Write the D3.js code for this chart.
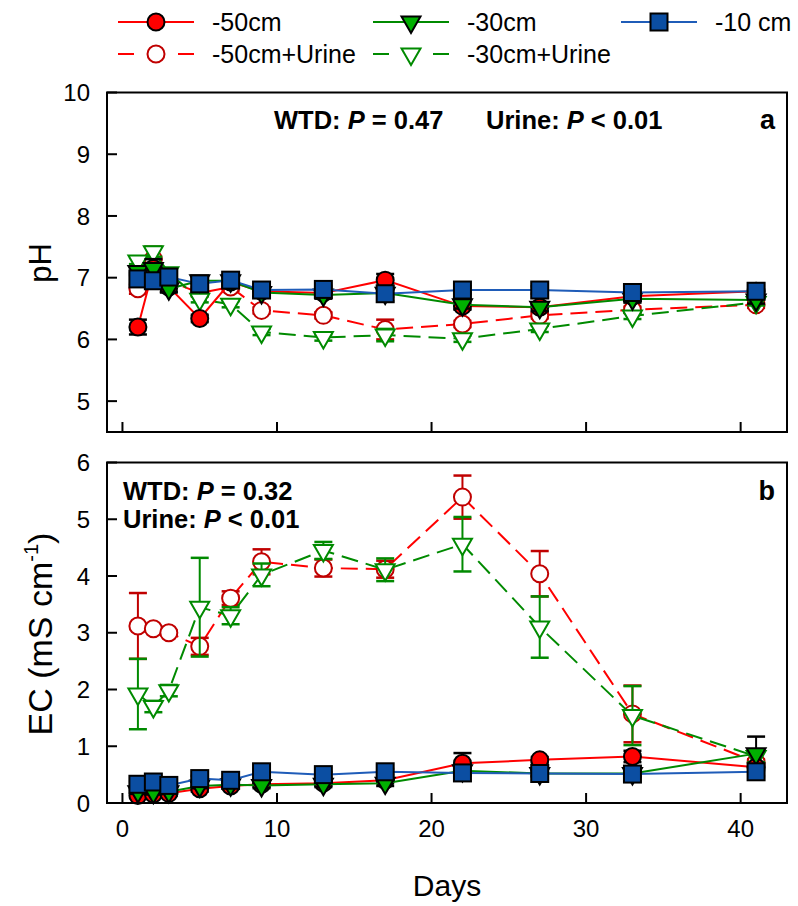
<!DOCTYPE html>
<html>
<head>
<meta charset="utf-8">
<script src="https://cdn.jsdelivr.net/npm/d3@7"></script>
<style>
  body { margin: 0; background: #fff; }
  svg { font-family: "Liberation Sans", Arial, sans-serif; }
</style>
</head>
<body>
<div id="chart"></div>
<script>
// sampling days
const days = [1, 2, 3, 5, 7, 9, 13, 17, 22, 27, 33, 41];

// pH (panel a)
const ph50 = [6.20, 7.15, 6.85, 6.34, 6.93, 6.78, 6.75, 6.96, 6.54, 6.52, 6.70, 6.78];
const ph50Err = [0.12, 0.15, 0.08, 0.06, 0.08, 0.08, 0.08, 0.10, 0.06, 0.06, 0.10, 0.08];
const ph30 = [7.10, 7.15, 6.82, 6.95, 6.95, 6.76, 6.72, 6.75, 6.56, 6.52, 6.66, 6.64];
const ph30Err = [0.06, 0.08, 0.06, 0.05, 0.05, 0.06, 0.06, 0.06, 0.06, 0.06, 0.06, 0.06];
const ph10 = [6.98, 6.95, 7.01, 6.90, 6.96, 6.80, 6.81, 6.74, 6.80, 6.80, 6.76, 6.78];
const ph10Err = [0.10, 0.08, 0.10, 0.06, 0.08, 0.10, 0.06, 0.12, 0.06, 0.06, 0.12, 0.12];
const ph50u = [6.82, 7.30, 6.95, 6.75, 6.85, 6.47, 6.39, 6.16, 6.25, 6.39, 6.48, 6.56];
const ph50uErr = [0.08, 0.20, 0.08, 0.05, 0.06, 0.05, 0.05, 0.16, 0.05, 0.05, 0.05, 0.05];
const ph30u = [7.27, 7.42, 7.08, 6.65, 6.57, 6.12, 6.03, 6.07, 6.01, 6.17, 6.38, 6.60];
const ph30uErr = [0.05, 0.08, 0.05, 0.05, 0.05, 0.05, 0.05, 0.10, 0.05, 0.05, 0.05, 0.05];

// EC (panel b)
const ec50 = [0.13, 0.16, 0.17, 0.25, 0.30, 0.33, 0.35, 0.40, 0.70, 0.76, 0.82, 0.63];
const ec50Err = [0.04, 0.04, 0.04, 0.05, 0.05, 0.05, 0.05, 0.05, 0.18, 0.05, 0.10, 0.05];
const ec30 = [0.20, 0.19, 0.20, 0.30, 0.32, 0.31, 0.33, 0.35, 0.57, 0.52, 0.52, 0.87];
const ec30Err = [0.04, 0.04, 0.04, 0.04, 0.04, 0.05, 0.05, 0.05, 0.05, 0.05, 0.05, 0.30];
const ec10 = [0.33, 0.37, 0.31, 0.43, 0.40, 0.55, 0.50, 0.55, 0.53, 0.52, 0.51, 0.55];
const ec10Err = [0.05, 0.05, 0.05, 0.05, 0.05, 0.05, 0.05, 0.05, 0.05, 0.05, 0.05, 0.08];
const ec50u = [3.12, 3.07, 3.00, 2.76, 3.61, 4.25, 4.14, 4.12, 5.39, 4.04, 1.57, 0.72];
const ec50uErr = [0.58, 0.04, 0.04, 0.15, 0.12, 0.22, 0.15, 0.15, 0.38, 0.40, 0.50, 0.05];
const ec30u = [1.92, 1.70, 1.98, 3.45, 3.30, 4.02, 4.45, 4.11, 4.56, 3.10, 1.54, 0.82];
const ec30uErr = [0.62, 0.10, 0.10, 0.87, 0.15, 0.20, 0.15, 0.20, 0.48, 0.54, 0.52, 0.10];

const xTicks = [0, 10, 20, 30, 40];
const phTicks = [5, 6, 7, 8, 9, 10];
const ecTicks = [0, 1, 2, 3, 4, 5, 6];

const W = 798, H = 906;
const svg = d3.select("#chart").append("svg")
    .attr("width", W)
    .attr("height", H);

const x = d3.scaleLinear().domain([-1, 43]).range([107, 787]);
const yA = d3.scaleLinear().domain([4.5, 10]).range([432, 92.5]);
const yB = d3.scaleLinear().domain([0, 6]).range([803, 462.5]);

// series styles
const series = {
    s50u: { color: "#ff0000", mark: "circle", fill: "#fff", stroke: "#c00000", dash: "17,8", bar: "#c00000" },
    s30u: { color: "#008a00", mark: "tri", fill: "#fff", stroke: "#008a00", dash: "17,8", bar: "#008a00" },
    s50: { color: "#ff0000", mark: "circle", fill: "#ff0000", stroke: "#000", dash: null, bar: "#000" },
    s30: { color: "#008a00", mark: "tri", fill: "#00b000", stroke: "#000", dash: null, bar: "#000" },
    s10: { color: "#1f5cb8", mark: "square", fill: "#0b4ea2", stroke: "#000", dash: null, bar: "#000" }
};

function drawMarker(g, st, cx, cy) {
    if (st.mark === "circle") {
        g.append("circle").attr("cx", cx).attr("cy", cy).attr("r", 8.5)
            .attr("fill", st.fill).attr("stroke", st.stroke).attr("stroke-width", 2);
    } else if (st.mark === "tri") {
        const s = 19, h = s * 0.866;
        g.append("path")
            .attr("d", `M${cx - s / 2},${cy - h / 3}L${cx + s / 2},${cy - h / 3}L${cx},${cy + 2 * h / 3}Z`)
            .attr("fill", st.fill).attr("stroke", st.stroke).attr("stroke-width", 2);
    } else {
        g.append("rect").attr("x", cx - 8.5).attr("y", cy - 8.5).attr("width", 17).attr("height", 17)
            .attr("fill", st.fill).attr("stroke", st.stroke).attr("stroke-width", 2);
    }
}

function drawSeries(g, y, vals, errs, st) {
    const pts = days.map((d, i) => ({ d: d, v: vals[i], e: errs[i] }));
    const line = d3.line().x(p => x(p.d)).y(p => y(p.v));
    g.append("path").datum(pts)
        .attr("d", line)
        .attr("fill", "none")
        .attr("stroke", st.color)
        .attr("stroke-width", 2)
        .attr("stroke-dasharray", st.dash);
    pts.forEach(p => {
        const cx = x(p.d);
        g.append("line").attr("x1", cx).attr("x2", cx)
            .attr("y1", y(p.v - p.e)).attr("y2", y(p.v + p.e))
            .attr("stroke", st.bar).attr("stroke-width", 2);
        [p.v - p.e, p.v + p.e].forEach(v => {
            g.append("line").attr("x1", cx - 9).attr("x2", cx + 9)
                .attr("y1", y(v)).attr("y2", y(v))
                .attr("stroke", st.bar).attr("stroke-width", 2.5);
        });
    });
    pts.forEach(p => drawMarker(g, st, x(p.d), y(p.v)));
}

function drawPanel(y, ticks, showXLabels) {
    const g = svg.append("g");
    const [y0, y1] = y.range();
    // inward ticks
    ticks.forEach(t => {
        g.append("line").attr("x1", 107).attr("x2", 117)
            .attr("y1", y(t)).attr("y2", y(t))
            .attr("stroke", "#000").attr("stroke-width", 2);
        g.append("text").attr("x", 90).attr("y", y(t)).attr("dy", "0.36em")
            .attr("text-anchor", "end").attr("font-size", 24).text(t);
    });
    xTicks.forEach(t => {
        g.append("line").attr("x1", x(t)).attr("x2", x(t))
            .attr("y1", y0).attr("y2", y0 - 10)
            .attr("stroke", "#000").attr("stroke-width", 2);
        if (showXLabels) {
            g.append("text").attr("x", x(t)).attr("y", y0 + 34)
                .attr("text-anchor", "middle").attr("font-size", 24).text(t);
        }
    });
    return g;
}

function drawFrame(y) {
    const [y0, y1] = y.range();
    svg.append("rect").attr("x", 107).attr("y", y1)
        .attr("width", 787 - 107).attr("height", y0 - y1)
        .attr("fill", "none").attr("stroke", "#000").attr("stroke-width", 2);
}

// panel a
const gA = drawPanel(yA, phTicks, false);
drawSeries(gA, yA, ph50u, ph50uErr, series.s50u);
drawSeries(gA, yA, ph30u, ph30uErr, series.s30u);
drawSeries(gA, yA, ph50, ph50Err, series.s50);
drawSeries(gA, yA, ph30, ph30Err, series.s30);
drawSeries(gA, yA, ph10, ph10Err, series.s10);
drawFrame(yA);

// panel b
const gB = drawPanel(yB, ecTicks, true);
drawSeries(gB, yB, ec50u, ec50uErr, series.s50u);
drawSeries(gB, yB, ec30u, ec30uErr, series.s30u);
drawSeries(gB, yB, ec50, ec50Err, series.s50);
drawSeries(gB, yB, ec30, ec30Err, series.s30);
drawSeries(gB, yB, ec10, ec10Err, series.s10);
drawFrame(yB);

// annotations
function pText(xp, yp, label, val) {
    const t = svg.append("text").attr("x", xp).attr("y", yp)
        .attr("font-size", 25.5).attr("font-weight", "bold");
    t.append("tspan").text(label + " ");
    t.append("tspan").attr("font-style", "italic").text("P");
    t.append("tspan").text(" " + val);
}
pText(274, 129, "WTD:", "= 0.47");
pText(486, 129, "Urine:", "< 0.01");
svg.append("text").attr("x", 775).attr("y", 129).attr("text-anchor", "end")
    .attr("font-size", 27).attr("font-weight", "bold").text("a");
pText(123, 500, "WTD:", "= 0.32");
pText(123, 528, "Urine:", "< 0.01");
svg.append("text").attr("x", 775).attr("y", 500).attr("text-anchor", "end")
    .attr("font-size", 27).attr("font-weight", "bold").text("b");

// axis titles
svg.append("text").attr("transform", "translate(51,263) rotate(-90)")
    .attr("text-anchor", "middle").attr("font-size", 31).text("pH");
const ecT = svg.append("text").attr("transform", "translate(52,634) rotate(-90)")
    .attr("text-anchor", "middle").attr("font-size", 34);
ecT.append("tspan").text("EC (mS cm");
ecT.append("tspan").attr("font-size", 20).attr("dy", -14).text("-1");
ecT.append("tspan").attr("dy", 14).text(")");
svg.append("text").attr("x", 447).attr("y", 896)
    .attr("text-anchor", "middle").attr("font-size", 30).text("Days");

// legend
const legendItems = [
    { key: "s50", label: "-50cm", lx: 118, ly: 22 },
    { key: "s30", label: "-30cm", lx: 373, ly: 22 },
    { key: "s10", label: "-10 cm", lx: 621, ly: 22 },
    { key: "s50u", label: "-50cm+Urine", lx: 118, ly: 54 },
    { key: "s30u", label: "-30cm+Urine", lx: 373, ly: 54 }
];
const lg = svg.append("g");
legendItems.forEach(it => {
    const st = series[it.key];
    if (st.dash) {
        lg.append("line").attr("x1", it.lx).attr("x2", it.lx + 16)
            .attr("y1", it.ly).attr("y2", it.ly).attr("stroke", st.color).attr("stroke-width", 2);
        lg.append("line").attr("x1", it.lx + 60).attr("x2", it.lx + 76)
            .attr("y1", it.ly).attr("y2", it.ly).attr("stroke", st.color).attr("stroke-width", 2);
    } else {
        lg.append("line").attr("x1", it.lx).attr("x2", it.lx + 76)
            .attr("y1", it.ly).attr("y2", it.ly).attr("stroke", st.color).attr("stroke-width", 2);
    }
    drawMarker(lg, st, it.lx + 38, it.ly);
    lg.append("text").attr("x", it.lx + 94).attr("y", it.ly).attr("dy", "0.36em")
        .attr("font-size", 25).text(it.label);
});
</script>
</body>
</html>
